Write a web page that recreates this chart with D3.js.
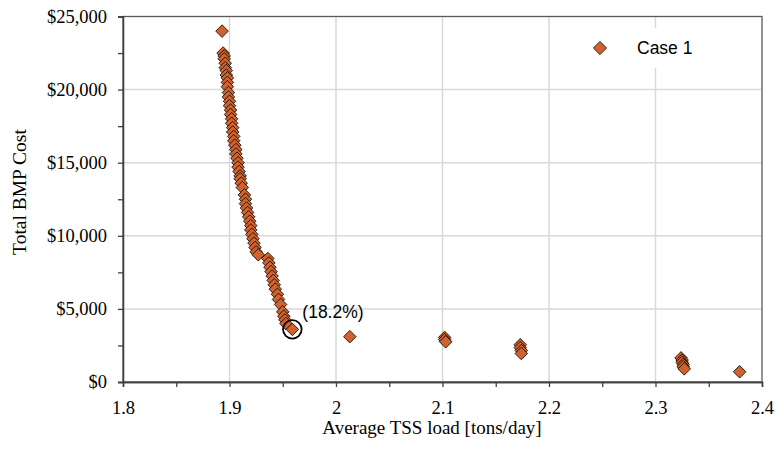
<!DOCTYPE html>
<html>
<head>
<meta charset="utf-8">
<script src="https://cdn.jsdelivr.net/npm/d3@7"></script>
<style>
  body { margin: 0; background: #fff; }
  .serif { font-family: "Times New Roman", "Liberation Serif", serif; }
  .sans { font-family: Arial, "Liberation Sans", sans-serif; }
</style>
</head>
<body>
<div id="chart"></div>
<script>
// Case 1 trade-off points: average TSS load [tons/day] vs total BMP cost [$]
var tssLoad = [
  1.893,
  1.894, 1.895, 1.895, 1.896, 1.896, 1.897, 1.897, 1.898, 1.898, 1.898,
  1.899, 1.899, 1.900, 1.900, 1.901, 1.901, 1.902, 1.902, 1.903, 1.903,
  1.904, 1.904, 1.905, 1.906, 1.906, 1.907, 1.908, 1.908, 1.909, 1.910,
  1.910, 1.911, 1.912, 1.914, 1.915, 1.915, 1.916, 1.917, 1.918, 1.919,
  1.920, 1.920, 1.921, 1.922, 1.923, 1.924, 1.925, 1.927,
  1.936, 1.937, 1.938, 1.939, 1.940, 1.941, 1.942, 1.943, 1.945, 1.946,
  1.948, 1.950, 1.951, 1.952, 1.953, 1.959,
  2.013,
  2.102, 2.102, 2.103,
  2.173, 2.173, 2.174, 2.174,
  2.324, 2.325, 2.325, 2.326, 2.326, 2.327,
  2.379
];
var bmpCost = [
  24000,
  22500, 22300, 22100, 21800, 21500, 21300, 21000, 20800, 20500, 20200,
  19800, 19500, 19200, 18900, 18600, 18300, 18000, 17700, 17400, 17100,
  16800, 16500, 16200, 15900, 15600, 15300, 15000, 14700, 14400, 14100,
  13900, 13600, 13300, 12800, 12500, 12200, 11900, 11600, 11300, 11000,
  10700, 10400, 10100, 9800, 9500, 9200, 8900, 8700,
  8450, 8150, 7850, 7550, 7250, 6950, 6650, 6350, 6000, 5650,
  5300, 4800, 4500, 4250, 4000, 3600,
  3100,
  3050, 2900, 2750,
  2550, 2350, 2150, 1950,
  1650, 1500, 1350, 1200, 1050, 900,
  700
];
var xTicks = [1.8, 1.9, 2.0, 2.1, 2.2, 2.3, 2.4];
var xMinor = [1.85, 1.95, 2.05, 2.15, 2.25, 2.35];
var yTicks = [0, 5000, 10000, 15000, 20000, 25000];
var yMinor = [2500, 7500, 12500, 17500, 22500];
var seriesName = 'Case 1';
var note = { x: 1.959, y: 3600, label: '(18.2%)' };

var width = 777, height = 451;
var margin = { top: 16.5, right: 15, bottom: 69, left: 123 };

var svg = d3.select('#chart')
  .append('svg')
  .attr('width', width)
  .attr('height', height);

var x = d3.scaleLinear().domain([1.8, 2.4]).range([margin.left, width - margin.right]);
var y = d3.scaleLinear().domain([0, 25000]).range([height - margin.bottom, margin.top]);

var markFill = '#d0622e';
function diamond(r) {
  return 'M0,' + (-r) + 'L' + r + ',0L0,' + r + 'L' + (-r) + ',0Z';
}

// gridlines
svg.append('g')
  .selectAll('line')
  .data(xTicks.slice(1, -1))
  .enter()
  .append('line')
  .attr('x1', function (d) { return x(d); })
  .attr('x2', function (d) { return x(d); })
  .attr('y1', y(0))
  .attr('y2', y(25000))
  .style('stroke', '#d9d9d9')
  .style('stroke-width', 1.5);

svg.append('g')
  .selectAll('line')
  .data(yTicks.slice(1, -1))
  .enter()
  .append('line')
  .attr('x1', x(1.8))
  .attr('x2', x(2.4))
  .attr('y1', function (d) { return y(d); })
  .attr('y2', function (d) { return y(d); })
  .style('stroke', '#d9d9d9')
  .style('stroke-width', 1.5);

// plot frame
svg.append('rect')
  .attr('x', x(1.8))
  .attr('y', y(25000))
  .attr('width', x(2.4) - x(1.8))
  .attr('height', y(0) - y(25000))
  .style('fill', 'none')
  .style('stroke', '#595959')
  .style('stroke-width', 1.3);

// legend box (covers gridline)
svg.append('rect')
  .attr('x', 578)
  .attr('y', 28)
  .attr('width', 175)
  .attr('height', 40)
  .style('fill', '#fff');

// axes
var fmt = d3.format('$,');
svg.append('g')
  .attr('class', 'serif')
  .attr('transform', 'translate(0,' + y(0) + ')')
  .call(d3.axisBottom(x).tickValues(xTicks).tickSize(5).tickPadding(14)
    .tickFormat(function (d) { return d3.format('.1~f')(d); }));
svg.append('g')
  .attr('transform', 'translate(0,' + y(0) + ')')
  .call(d3.axisBottom(x).tickValues(xMinor).tickSize(5).tickFormat(''));

svg.append('g')
  .attr('class', 'serif')
  .attr('transform', 'translate(' + x(1.8) + ',0)')
  .call(d3.axisLeft(y).tickValues(yTicks).tickSize(5).tickPadding(11).tickFormat(fmt));
svg.append('g')
  .attr('transform', 'translate(' + x(1.8) + ',0)')
  .call(d3.axisLeft(y).tickValues(yMinor).tickSize(5).tickFormat(''));

svg.selectAll('.domain').style('stroke', '#404040').style('stroke-width', 1.3);
svg.selectAll('.tick line').style('stroke', '#404040').style('stroke-width', 1.3);
svg.selectAll('.tick text')
  .style('font-family', '"Times New Roman", "Liberation Serif", serif')
  .style('font-size', '18.5px')
  .style('fill', '#000');

// axis titles
svg.append('text')
  .attr('class', 'serif')
  .attr('x', 432)
  .attr('y', 434)
  .attr('text-anchor', 'middle')
  .style('font-size', '19px')
  .text('Average TSS load [tons/day]');

svg.append('text')
  .attr('class', 'serif')
  .attr('transform', 'translate(26,192) rotate(-90)')
  .attr('text-anchor', 'middle')
  .style('font-size', '19.5px')
  .text('Total BMP Cost');

// points
svg.append('g')
  .selectAll('path')
  .data(d3.range(tssLoad.length))
  .enter()
  .append('path')
  .attr('d', diamond(6.3))
  .attr('transform', function (i) {
    return 'translate(' + x(tssLoad[i]) + ',' + y(bmpCost[i]) + ')';
  })
  .style('fill', markFill)
  .style('stroke', '#000')
  .style('stroke-width', 0.8);

// highlighted point
svg.append('circle')
  .attr('cx', x(note.x))
  .attr('cy', y(note.y))
  .attr('r', 9.3)
  .style('fill', 'none')
  .style('stroke', '#000')
  .style('stroke-width', 1.8);

svg.append('text')
  .attr('class', 'sans')
  .attr('x', x(note.x) + 10)
  .attr('y', y(note.y) - 11)
  .style('font-size', '17.5px')
  .text(note.label);

// legend
svg.append('path')
  .attr('d', diamond(6.6))
  .attr('transform', 'translate(600,48)')
  .style('fill', markFill)
  .style('stroke', '#000')
  .style('stroke-width', 0.8);

svg.append('text')
  .attr('class', 'sans')
  .attr('x', 637)
  .attr('y', 48)
  .attr('dy', '0.35em')
  .style('font-size', '17.5px')
  .text(seriesName);
</script>
</body>
</html>
